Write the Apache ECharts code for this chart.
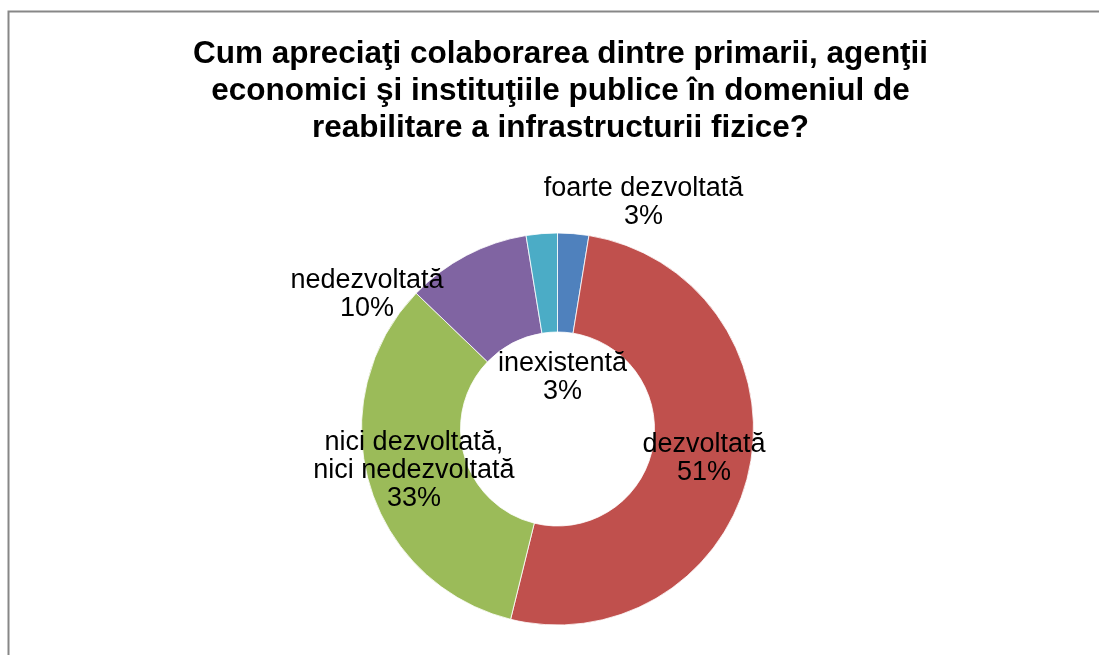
<!DOCTYPE html>
<html>
<head>
<meta charset="utf-8">
<style>
html,body{margin:0;padding:0;background:#fff;}
#chart{width:1099px;height:655px;}
</style>
<script src="https://cdn.jsdelivr.net/npm/echarts@6/dist/echarts.min.js"></script>
</head>
<body>
<div id="chart"></div>
<script>
// Data (counts; labels show rounded percentages)
const categories = ['foarte dezvoltată', 'dezvoltată', 'nici dezvoltată,\nnici nedezvoltată', 'nedezvoltată', 'inexistentă'];
const values = [1, 20, 13, 4, 1];
const colors = ['#4F81BD', '#C0504D', '#9BBB59', '#8064A2', '#4BACC6'];
const titleText = 'Cum apreciaţi colaborarea dintre primarii, agenţii\neconomici şi instituţiile publice în domeniul de\nreabilitare a infrastructurii fizice?';
// label shifts away from the slice middle (style, not data)
const labelShift = [[74, -77], [0, 0], [0, 0], [-121, -2], [17, 98]];

const chart = echarts.init(document.getElementById('chart'), null, {renderer: 'canvas'});
chart.setOption({
  animation: false,
  backgroundColor: '#ffffff',
  title: {
    text: titleText,
    left: 555.5,
    top: 31,
    textAlign: 'center',
    textStyle: {
      fontFamily: 'Liberation Sans, Arial, sans-serif',
      fontWeight: 'bold',
      fontSize: 31.5,
      lineHeight: 37,
      color: '#000'
    }
  },
  graphic: [{
    type: 'rect',
    shape: {x: 8.5, y: 11.5, width: 1200, height: 900},
    style: {fill: null, stroke: '#878787', lineWidth: 2},
    silent: true
  }],
  series: [{
    type: 'pie',
    center: [557.5, 429],
    radius: [97, 196],
    startAngle: 90,
    clockwise: true,
    avoidLabelOverlap: false,
    itemStyle: {borderColor: '#ffffff', borderWidth: 0.8},
    label: {
      show: true,
      position: 'inside',
      fontFamily: 'Liberation Sans, Arial, sans-serif',
      fontSize: 27,
      lineHeight: 28,
      color: '#000',
      align: 'center',
      formatter: function (p) { return p.name + '\n' + Math.round(p.percent) + '%'; }
    },
    labelLine: {show: false},
    labelLayout: function (p) {
      const s = labelShift[p.dataIndex];
      return {dx: s[0], dy: s[1]};
    },
    emphasis: {disabled: true},
    data: categories.map((c, i) => ({name: c, value: values[i], itemStyle: {color: colors[i]}}))
  }]
});
</script>
</body>
</html>
